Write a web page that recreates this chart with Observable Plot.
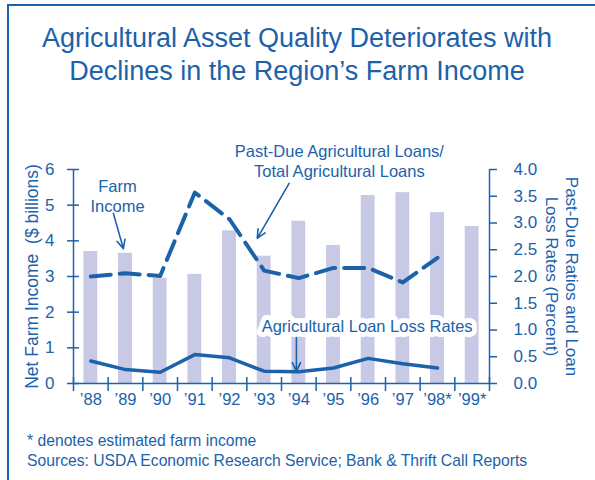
<!DOCTYPE html>
<html><head><meta charset="utf-8">
<script src="https://cdn.jsdelivr.net/npm/d3@7"></script>
<script src="https://cdn.jsdelivr.net/npm/@observablehq/plot@0.6"></script>
<style>
html,body{margin:0;padding:0;background:#fff;}
body{font-family:"Liberation Sans",Arial,sans-serif;color:#1b62ab;}
#page{position:relative;width:595px;height:480px;overflow:hidden;}
#frame{position:absolute;left:7px;top:4px;right:-10px;bottom:-10px;border-top:2.5px solid #1b62ab;border-left:2.5px solid #1b62ab;}
#title{position:absolute;left:0;width:594px;top:22px;text-align:center;font-size:27px;line-height:33px;}
#chart{position:absolute;left:0;top:120px;}
#foot{position:absolute;left:27px;top:431px;font-size:15.7px;line-height:20px;}
</style></head>
<body>
<div id="page">
  <div id="title">Agricultural Asset Quality Deteriorates with<br>Declines in the Region’s Farm Income</div>
  <div id="chart"></div>
  <div id="foot">* denotes estimated farm income<br>Sources: USDA Economic Research Service; Bank &amp; Thrift Call Reports</div>
  <div id="frame"></div>
</div>
<script>
// ---- data ----
const years = ["’88","’89","’90","’91","’92","’93","’94","’95","’96","’97","’98*","’99*"];
const farmIncome = [3.70, 3.65, 2.95, 3.06, 4.28, 3.57, 4.55, 3.87, 5.27, 5.35, 4.79, 4.40];
const pastDueRatio = [2.00, 2.06, 2.01, 3.57, 3.07, 2.11, 1.97, 2.16, 2.16, 1.89, 2.35];
const lossRate = [0.42, 0.26, 0.21, 0.54, 0.48, 0.23, 0.22, 0.29, 0.47, 0.37, 0.29];
const leftTicks = [0, 1, 2, 3, 4, 5, 6];
const rightTicks = [0, 0.5, 1.0, 1.5, 2.0, 2.5, 3.0, 3.5, 4.0];
const leftMax = 6, rightMax = 4;

const blue = "#1b62ab";
const barColor = "#c7c9e5";
const font = "'Liberation Sans', Arial, sans-serif";
const K = leftMax / rightMax;

const bars = farmIncome.map((v, i) => ({i, v}));
const pd = pastDueRatio.map((v, i) => ({i, v: v * K}));
const lr = lossRate.map((v, i) => ({i, v: v * K}));

const labels = [
  {text: "Farm\nIncome", x: 0.77, y: 5.28, halo: false},
  {text: "Past-Due Agricultural Loans/\nTotal Agricultural Loans", x: 7.17, y: 6.25, halo: false},
  {text: "Agricultural Loan Loss Rates", x: 7.97, y: 1.60, halo: true}
];
const arrows = [
  {x1: 0.65, y1: 4.77, x2: 0.94, y2: 3.78},
  {x1: 5.72, y1: 5.61, x2: 4.80, y2: 4.07},
  {x1: 5.93, y1: 1.29, x2: 5.93, y2: 0.34}
];
const haloLabels = labels.filter(d => d.halo);

const chart = Plot.plot({
  width: 595, height: 300,
  marginTop: 49, marginBottom: 37, marginLeft: 73, marginRight: 106,
  style: {fontFamily: font, color: blue, background: "transparent", overflow: "visible"},
  x: {domain: [-0.5, years.length - 0.5], axis: null},
  y: {domain: [0, leftMax], axis: null},
  marks: [
    Plot.rectY(bars, {x1: d => d.i - 0.2, x2: d => d.i + 0.2, y: "v", fill: barColor}),
    Plot.line(pd, {x: "i", y: "v", stroke: blue, strokeWidth: 4, strokeDasharray: "20,9"}),
    Plot.line(lr, {x: "i", y: "v", stroke: blue, strokeWidth: 3.5}),
    Plot.ruleY([0], {stroke: blue, strokeWidth: 1.5}),
    Plot.ruleX([-0.5, years.length - 0.5], {stroke: blue, strokeWidth: 1.5}),
    Plot.axisX({ticks: d3.range(-0.5, years.length, 1), tickSize: 14, dy: -6, tickFormat: () => "", strokeWidth: 1.5}),
    Plot.axisX({ticks: d3.range(0, years.length), tickSize: 0, tickPadding: 10, tickFormat: i => years[i], fontSize: 16.5}),
    Plot.axisY({anchor: "left", ticks: leftTicks, tickSize: 12, dx: 6, tickFormat: () => "", strokeWidth: 1.5}),
    Plot.axisY({anchor: "left", ticks: leftTicks, tickSize: 0, tickPadding: 19, tickFormat: d => String(d), fontSize: 17}),
    Plot.axisY({anchor: "right", ticks: rightTicks.map(d => d * K), tickSize: 7, tickPadding: 17, strokeWidth: 1.5,
      tickFormat: d => (d / K).toFixed(1), fontSize: 17}),
    Plot.text(["Net Farm Income  ($ billions)"], {frameAnchor: "left", textAnchor: "middle", dx: -41, rotate: -90, fontSize: 17.5, fill: blue}),
    Plot.text(["Past-Due Ratios and Loan\nLoss Rates (Percent)"], {frameAnchor: "right", textAnchor: "middle", dx: 73, rotate: 90, fontSize: 17, lineHeight: 1.18, fill: blue}),
    Plot.text(labels.filter(d => !d.halo), {x: "x", y: "y", text: "text", fontSize: 16.5, lineHeight: 1.24, fill: blue}),
    // white box behind the loss-rate label, then the label itself
    Plot.text(haloLabels, {x: "x", y: "y", text: "text", fontSize: 16.5, fill: "white", stroke: "white", strokeWidth: 10, strokeLinejoin: "round"}),
    Plot.text(haloLabels, {x: "x", y: "y", text: "text", fontSize: 16.5, fill: blue}),
    Plot.arrow(arrows, {x1: "x1", y1: "y1", x2: "x2", y2: "y2", stroke: blue, strokeWidth: 1.6, headLength: 9, headAngle: 50})
  ]
});
document.getElementById("chart").appendChild(chart);
</script>
</body></html>
